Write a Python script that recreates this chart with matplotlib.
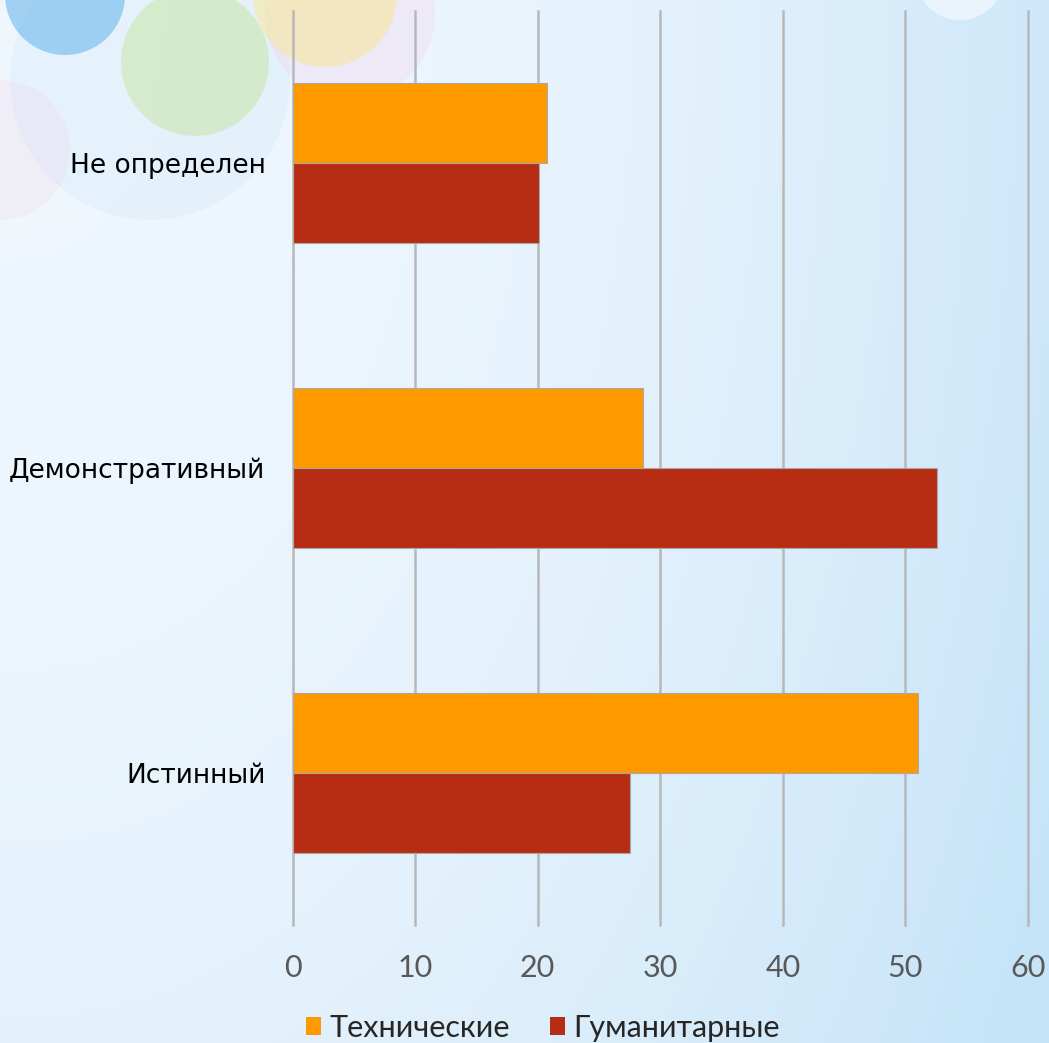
import numpy as np
import matplotlib
matplotlib.use("Agg")
import matplotlib.pyplot as plt
from matplotlib.patches import Circle

categories = ["Истинный", "Демонстративный", "Не определен"]
series_names = ["Технические", "Гуманитарные"]
tech = [51.0, 28.6, 20.8]
human = [27.5, 52.6, 20.1]
xticks = [0, 10, 20, 30, 40, 50, 60]

colors = ["#FE9A00", "#B72D14"]

W, H = 1049, 1043
fig = plt.figure(figsize=(W / 100, H / 100), dpi=100)

# ---- background decoration ----
bg = fig.add_axes([0, 0, 1, 1])
bg.set_xlim(0, W)
bg.set_ylim(H, 0)
bg.axis("off")
yy, xx = np.mgrid[0:H:4, 0:W:4]
t = np.clip(0.03 + 0.8 * (xx / W) ** 2.2 + 0.28 * (yy / H) ** 2.0, 0, 1)
c0 = np.array([0.945, 0.972, 0.995])
c1 = np.array([0.78, 0.895, 0.975])
img = c0[None, None, :] * (1 - t[..., None]) + c1[None, None, :] * t[..., None]
bg.imshow(img, extent=[0, W, H, 0], aspect="auto", zorder=0)
circles = [
    ((150, 80), 140, "#d6ebf9", 0.4),
    ((0, 150), 70, "#f3cde3", 0.2),
    ((350, 15), 85, "#f1d3ee", 0.35),
    ((325, -5), 72, "#f7e7a0", 0.6),
    ((65, -5), 60, "#6cb8ec", 0.6),
    ((195, 62), 74, "#c6e6a6", 0.55),
    ((960, -25), 45, "#f4f9fe", 0.7),
]
for (cx, cy), r, col, a in circles:
    bg.add_patch(Circle((cx, cy), r, color=col, alpha=a, lw=0, zorder=1))

# ---- chart ----
left, right = 292.5 / W, 1028 / W
top, bottom = 1 - 11 / H, 1 - 925 / H
ax = fig.add_axes([left, bottom, right - left, top - bottom])
ax.patch.set_alpha(0)

y = np.arange(len(categories))
h = 0.2625
b1 = ax.barh(y + h / 2, tech, height=h, color=colors[0], edgecolor="#a8a8a8",
             linewidth=0.8, label=series_names[0], zorder=3)
b2 = ax.barh(y - h / 2, human, height=h, color=colors[1], edgecolor="#a8a8a8",
             linewidth=0.8, label=series_names[1], zorder=3)

tickfont = ["Lato", "DejaVu Sans"]
ax.set_xlim(0, 60)
ax.set_ylim(-0.5, 2.5)
ax.set_xticks(xticks)
ax.set_xticklabels([str(v) for v in xticks], family=tickfont,
                   fontsize=22, color="#595959")
ax.set_yticks(y)
ax.set_yticklabels(categories, family="DejaVu Sans", fontsize=19, color="#000000")
ax.tick_params(axis="x", length=0, pad=21)
ax.tick_params(axis="y", length=0, pad=19.5)
for s in ax.spines.values():
    s.set_visible(False)
ax.xaxis.grid(True, color="#b8b8b8", linewidth=1.8, zorder=0)
for gl in ax.get_xgridlines():
    gl.set_clip_on(False)
ax.set_axisbelow(True)

leg = fig.legend(handles=[b1, b2], labels=series_names, loc="center",
                 bbox_to_anchor=(543 / W, 15 / H), ncol=2, frameon=False,
                 prop={"family": tickfont, "size": 22},
                 handlelength=0.5, handleheight=0.5, handletextpad=0.28,
                 columnspacing=1.3, borderaxespad=0)
for hnd in leg.legend_handles:
    hnd.set_edgecolor("none")
for txt in leg.get_texts():
    txt.set_color("#262626")

fig.savefig("out.png", dpi=100)
